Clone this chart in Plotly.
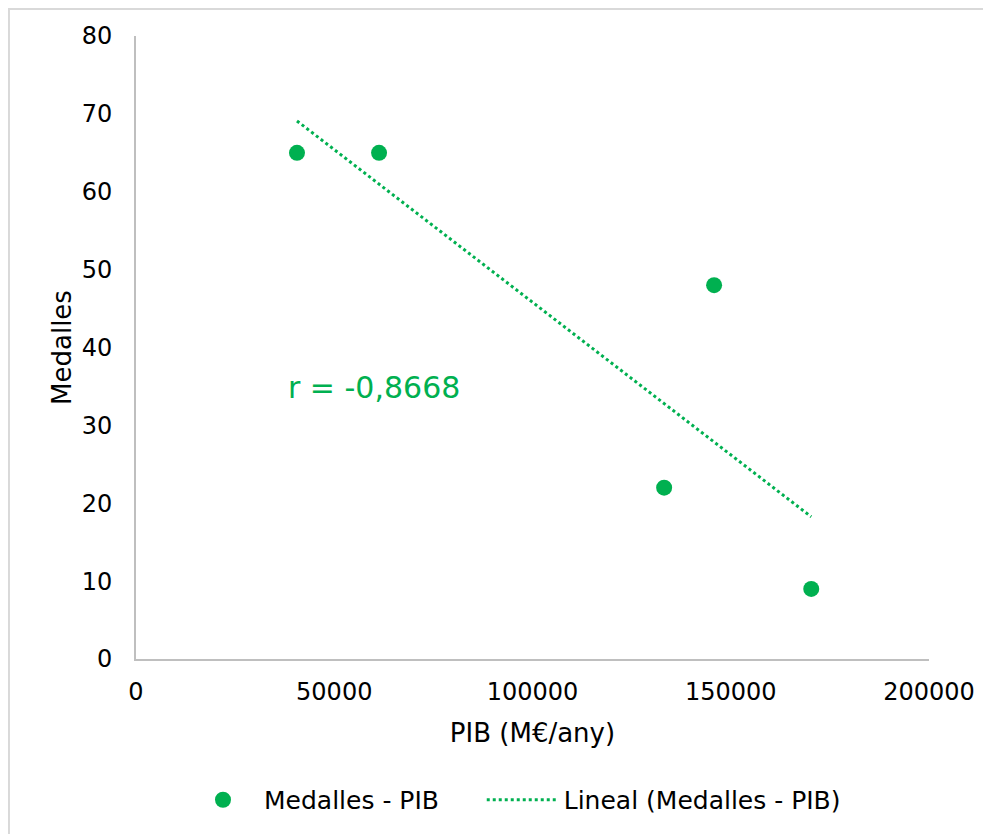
import numpy as np
import plotly.graph_objects as go

# ===== data =====
pib = [40600, 61300, 133200, 145800, 170300]
medalles = [65, 65, 22, 48, 9]
r_label = "r = -0,8668"

x_ticks = [0, 50000, 100000, 150000, 200000]
y_ticks = [0, 10, 20, 30, 40, 50, 60, 70, 80]

green = "#00B050"
font = "DejaVu Sans, Verdana, sans-serif"

# linear trendline (least squares, like Excel's "Lineal")
slope, intercept = np.polyfit(pib, medalles, 1)
trend_x = [min(pib), max(pib)]
trend_y = [slope * v + intercept for v in trend_x]

fig = go.Figure()
fig.add_trace(go.Scatter(x=pib, y=medalles, mode="markers", name="Medalles - PIB",
                         marker=dict(color=green, size=16), legend="legend"))
fig.add_trace(go.Scatter(x=trend_x, y=trend_y, mode="lines", name="Lineal (Medalles - PIB)",
                         line=dict(color=green, width=3, dash="dot"), legend="legend2"))

fig.add_annotation(x=0.30, y=0.436, xref="paper", yref="paper", text=r_label,
                   xanchor="center", yanchor="middle",
                   showarrow=False, font=dict(size=30, color=green, family=font))

# outer chart border
fig.add_shape(type="rect", xref="paper", yref="paper", x0=-0.1602, x1=1.2, y0=-0.35, y1=1.0433,
              line=dict(color="#d9d9d9", width=2), layer="below")

fig.update_xaxes(range=[0, 200000], tickvals=x_ticks, ticktext=[str(v) for v in x_ticks],
                 showgrid=False, zeroline=False, showline=True, linecolor="#bfbfbf", linewidth=2,
                 ticks="", ticklabelstandoff=10, tickfont=dict(size=24, color="black"),
                 title=dict(text="PIB (M€/any)", font=dict(size=26, color="black"), standoff=19))
fig.update_yaxes(range=[0, 80], tickvals=y_ticks, showgrid=False, zeroline=False,
                 showline=True, linecolor="#bfbfbf", linewidth=2, ticks="",
                 ticklabelstandoff=17, tickfont=dict(size=24, color="black"),
                 title=dict(text="Medalles", font=dict(size=26, color="black"), standoff=3))

leg = dict(orientation="h", xanchor="left", y=-0.2263, yanchor="middle",
           font=dict(size=25, color="black"), itemwidth=72, bgcolor="rgba(0,0,0,0)")

fig.update_layout(
    width=991, height=834,
    margin=dict(l=128, r=70, t=28, b=183),
    paper_bgcolor="white", plot_bgcolor="white",
    font=dict(family=font, color="black"),
    showlegend=True,
    legend=dict(leg, x=0.058),
    legend2=dict(leg, x=0.436),
)

fig.write_html("out.html")
